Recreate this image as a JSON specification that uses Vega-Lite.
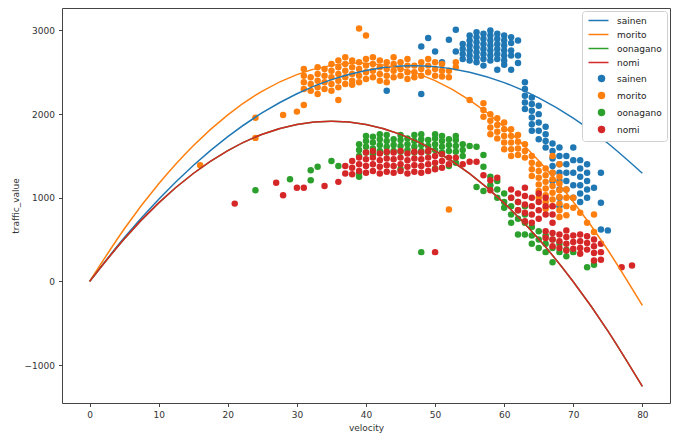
{
"$schema":"https://vega.github.io/schema/vega-lite/v6.json",
"width":608,"height":395,"autosize":"none",
"padding":{"left":62,"top":8,"right":9,"bottom":32},
"background":"white",
"config":{"view":{"stroke":"#444","strokeWidth":1},"font":"DejaVu Sans",
"axis":{"grid":false,"domain":false,"tickColor":"#444","tickSize":3.5,"labelColor":"#333","labelFontSize":9,"titleFontSize":9,"titleFontWeight":"normal","titleColor":"#333","labelFont":"DejaVu Sans","titleFont":"DejaVu Sans","labelPadding":4}},
"datasets":{
"lines":[
{"s":"sainen_l","v":0,"t":0},{"s":"sainen_l","v":5,"t":521},{"s":"sainen_l","v":10,"t":983},{"s":"sainen_l","v":15,"t":1386},{"s":"sainen_l","v":20,"t":1731},{"s":"sainen_l","v":25,"t":2017},{"s":"sainen_l","v":30,"t":2244},{"s":"sainen_l","v":35,"t":2413},{"s":"sainen_l","v":40,"t":2523},{"s":"sainen_l","v":45,"t":2575},{"s":"sainen_l","v":50,"t":2568},{"s":"sainen_l","v":55,"t":2502},{"s":"sainen_l","v":60,"t":2377},{"s":"sainen_l","v":65,"t":2194},{"s":"sainen_l","v":70,"t":1952},{"s":"sainen_l","v":75,"t":1652},{"s":"sainen_l","v":80,"t":1293},
{"s":"morito_l","v":0,"t":0},{"s":"morito_l","v":5,"t":627},{"s":"morito_l","v":10,"t":1168},{"s":"morito_l","v":15,"t":1623},{"s":"morito_l","v":20,"t":1992},{"s":"morito_l","v":25,"t":2275},{"s":"morito_l","v":30,"t":2472},{"s":"morito_l","v":35,"t":2583},{"s":"morito_l","v":40,"t":2608},{"s":"morito_l","v":45,"t":2547},{"s":"morito_l","v":50,"t":2400},{"s":"morito_l","v":55,"t":2167},{"s":"morito_l","v":60,"t":1848},{"s":"morito_l","v":65,"t":1443},{"s":"morito_l","v":70,"t":952},{"s":"morito_l","v":75,"t":375},{"s":"morito_l","v":80,"t":-288},
{"s":"oonagano_l","v":0,"t":0},{"s":"oonagano_l","v":5,"t":508},{"s":"oonagano_l","v":10,"t":939},{"s":"oonagano_l","v":15,"t":1290},{"s":"oonagano_l","v":20,"t":1564},{"s":"oonagano_l","v":25,"t":1759},{"s":"oonagano_l","v":30,"t":1876},{"s":"oonagano_l","v":35,"t":1915},{"s":"oonagano_l","v":40,"t":1876},{"s":"oonagano_l","v":45,"t":1758},{"s":"oonagano_l","v":50,"t":1562},{"s":"oonagano_l","v":55,"t":1288},{"s":"oonagano_l","v":60,"t":936},{"s":"oonagano_l","v":65,"t":506},{"s":"oonagano_l","v":70,"t":-4},{"s":"oonagano_l","v":75,"t":-591},{"s":"oonagano_l","v":80,"t":-1256},
{"s":"nomi_l","v":0,"t":0},{"s":"nomi_l","v":5,"t":508},{"s":"nomi_l","v":10,"t":939},{"s":"nomi_l","v":15,"t":1290},{"s":"nomi_l","v":20,"t":1564},{"s":"nomi_l","v":25,"t":1759},{"s":"nomi_l","v":30,"t":1876},{"s":"nomi_l","v":35,"t":1915},{"s":"nomi_l","v":40,"t":1876},{"s":"nomi_l","v":45,"t":1758},{"s":"nomi_l","v":50,"t":1562},{"s":"nomi_l","v":55,"t":1288},{"s":"nomi_l","v":60,"t":936},{"s":"nomi_l","v":65,"t":506},{"s":"nomi_l","v":70,"t":-4},{"s":"nomi_l","v":75,"t":-591},{"s":"nomi_l","v":80,"t":-1256}
],
"pts":[
{"s":"sainen_p","v":43,"t":2280},{"s":"sainen_p","v":48,"t":2240},{"s":"sainen_p","v":49,"t":2910},{"s":"sainen_p","v":48,"t":2810},{"s":"sainen_p","v":50,"t":2750},{"s":"sainen_p","v":53,"t":3010},{"s":"sainen_p","v":52,"t":2890},{"s":"sainen_p","v":53,"t":2750},{"s":"sainen_p","v":51,"t":2620},
{"s":"sainen_p","v":54,"t":2660},{"s":"sainen_p","v":54,"t":2720},{"s":"sainen_p","v":54,"t":2780},{"s":"sainen_p","v":54,"t":2840},
{"s":"sainen_p","v":55,"t":2640},{"s":"sainen_p","v":55,"t":2700},{"s":"sainen_p","v":55,"t":2760},{"s":"sainen_p","v":55,"t":2820},{"s":"sainen_p","v":55,"t":2880},{"s":"sainen_p","v":55,"t":2940},
{"s":"sainen_p","v":56,"t":2620},{"s":"sainen_p","v":56,"t":2680},{"s":"sainen_p","v":56,"t":2740},{"s":"sainen_p","v":56,"t":2800},{"s":"sainen_p","v":56,"t":2860},{"s":"sainen_p","v":56,"t":2920},{"s":"sainen_p","v":56,"t":2980},
{"s":"sainen_p","v":57,"t":2660},{"s":"sainen_p","v":57,"t":2720},{"s":"sainen_p","v":57,"t":2780},{"s":"sainen_p","v":57,"t":2840},{"s":"sainen_p","v":57,"t":2900},{"s":"sainen_p","v":57,"t":2960},{"s":"sainen_p","v":57,"t":2580},
{"s":"sainen_p","v":58,"t":2640},{"s":"sainen_p","v":58,"t":2700},{"s":"sainen_p","v":58,"t":2760},{"s":"sainen_p","v":58,"t":2820},{"s":"sainen_p","v":58,"t":2880},{"s":"sainen_p","v":58,"t":2940},{"s":"sainen_p","v":58,"t":3000},
{"s":"sainen_p","v":59,"t":2660},{"s":"sainen_p","v":59,"t":2720},{"s":"sainen_p","v":59,"t":2780},{"s":"sainen_p","v":59,"t":2840},{"s":"sainen_p","v":59,"t":2900},{"s":"sainen_p","v":59,"t":2960},{"s":"sainen_p","v":59,"t":2530},
{"s":"sainen_p","v":60,"t":2640},{"s":"sainen_p","v":60,"t":2700},{"s":"sainen_p","v":60,"t":2760},{"s":"sainen_p","v":60,"t":2820},{"s":"sainen_p","v":60,"t":2880},{"s":"sainen_p","v":60,"t":2940},{"s":"sainen_p","v":60,"t":2590},
{"s":"sainen_p","v":61,"t":2700},{"s":"sainen_p","v":61,"t":2760},{"s":"sainen_p","v":61,"t":2850},{"s":"sainen_p","v":61,"t":2920},{"s":"sainen_p","v":61,"t":2530},
{"s":"sainen_p","v":62,"t":2880},{"s":"sainen_p","v":62,"t":2610},{"s":"sainen_p","v":62,"t":2700},
{"s":"sainen_p","v":63,"t":2380},{"s":"sainen_p","v":63,"t":2300},{"s":"sainen_p","v":63,"t":2220},{"s":"sainen_p","v":63,"t":2140},{"s":"sainen_p","v":63,"t":2060},
{"s":"sainen_p","v":64,"t":2200},{"s":"sainen_p","v":64,"t":2120},{"s":"sainen_p","v":64,"t":2040},{"s":"sainen_p","v":64,"t":1960},{"s":"sainen_p","v":64,"t":1880},{"s":"sainen_p","v":64,"t":1800},
{"s":"sainen_p","v":65,"t":2100},{"s":"sainen_p","v":65,"t":2000},{"s":"sainen_p","v":65,"t":1900},{"s":"sainen_p","v":65,"t":1800},{"s":"sainen_p","v":65,"t":1700},
{"s":"sainen_p","v":66,"t":1850},{"s":"sainen_p","v":66,"t":1760},{"s":"sainen_p","v":66,"t":1680},{"s":"sainen_p","v":66,"t":1600},
{"s":"sainen_p","v":67,"t":1650},{"s":"sainen_p","v":67,"t":1560},{"s":"sainen_p","v":67,"t":1470},{"s":"sainen_p","v":67,"t":1380},{"s":"sainen_p","v":67,"t":1300},{"s":"sainen_p","v":67,"t":1200},
{"s":"sainen_p","v":68,"t":1600},{"s":"sainen_p","v":68,"t":1500},{"s":"sainen_p","v":68,"t":1400},{"s":"sainen_p","v":68,"t":1300},{"s":"sainen_p","v":68,"t":1200},{"s":"sainen_p","v":68,"t":1100},{"s":"sainen_p","v":68,"t":1000},{"s":"sainen_p","v":68,"t":900},
{"s":"sainen_p","v":69,"t":1500},{"s":"sainen_p","v":69,"t":1400},{"s":"sainen_p","v":69,"t":1300},{"s":"sainen_p","v":69,"t":1200},{"s":"sainen_p","v":69,"t":1100},
{"s":"sainen_p","v":70,"t":1600},{"s":"sainen_p","v":70,"t":1450},{"s":"sainen_p","v":70,"t":1300},{"s":"sainen_p","v":70,"t":1150},{"s":"sainen_p","v":70,"t":1000},
{"s":"sainen_p","v":71,"t":1450},{"s":"sainen_p","v":71,"t":1350},{"s":"sainen_p","v":71,"t":1250},{"s":"sainen_p","v":71,"t":1150},{"s":"sainen_p","v":71,"t":1050},{"s":"sainen_p","v":71,"t":950},
{"s":"sainen_p","v":72,"t":1400},{"s":"sainen_p","v":72,"t":1300},{"s":"sainen_p","v":72,"t":1200},{"s":"sainen_p","v":72,"t":1100},{"s":"sainen_p","v":72,"t":1000},
{"s":"sainen_p","v":73,"t":1120},{"s":"sainen_p","v":74,"t":1300},{"s":"sainen_p","v":74,"t":940},{"s":"sainen_p","v":74,"t":620},{"s":"sainen_p","v":75,"t":610},
{"s":"morito_p","v":16,"t":1390},{"s":"morito_p","v":24,"t":1716},{"s":"morito_p","v":24,"t":1956},{"s":"morito_p","v":28,"t":1990},{"s":"morito_p","v":30,"t":2030},{"s":"morito_p","v":31,"t":2110},{"s":"morito_p","v":36,"t":2170},{"s":"morito_p","v":38,"t":2350},{"s":"morito_p","v":43,"t":2380},{"s":"morito_p","v":47,"t":2440},{"s":"morito_p","v":51,"t":2450},{"s":"morito_p","v":55,"t":2170},{"s":"morito_p","v":39,"t":3024},{"s":"morito_p","v":40,"t":2940},{"s":"morito_p","v":52,"t":860},
{"s":"morito_p","v":31,"t":2300},{"s":"morito_p","v":31,"t":2380},{"s":"morito_p","v":31,"t":2460},{"s":"morito_p","v":31,"t":2540},
{"s":"morito_p","v":32,"t":2280},{"s":"morito_p","v":32,"t":2360},{"s":"morito_p","v":32,"t":2440},
{"s":"morito_p","v":33,"t":2240},{"s":"morito_p","v":33,"t":2320},{"s":"morito_p","v":33,"t":2400},{"s":"morito_p","v":33,"t":2480},{"s":"morito_p","v":33,"t":2560},
{"s":"morito_p","v":34,"t":2300},{"s":"morito_p","v":34,"t":2380},{"s":"morito_p","v":34,"t":2460},{"s":"morito_p","v":34,"t":2540},
{"s":"morito_p","v":35,"t":2280},{"s":"morito_p","v":35,"t":2360},{"s":"morito_p","v":35,"t":2440},{"s":"morito_p","v":35,"t":2520},{"s":"morito_p","v":35,"t":2600},
{"s":"morito_p","v":36,"t":2320},{"s":"morito_p","v":36,"t":2400},{"s":"morito_p","v":36,"t":2480},{"s":"morito_p","v":36,"t":2560},{"s":"morito_p","v":36,"t":2640},
{"s":"morito_p","v":37,"t":2360},{"s":"morito_p","v":37,"t":2440},{"s":"morito_p","v":37,"t":2520},{"s":"morito_p","v":37,"t":2600},{"s":"morito_p","v":37,"t":2680},
{"s":"morito_p","v":38,"t":2400},{"s":"morito_p","v":38,"t":2480},{"s":"morito_p","v":38,"t":2560},{"s":"morito_p","v":38,"t":2640},
{"s":"morito_p","v":39,"t":2380},{"s":"morito_p","v":39,"t":2460},{"s":"morito_p","v":39,"t":2540},{"s":"morito_p","v":39,"t":2620},
{"s":"morito_p","v":40,"t":2420},{"s":"morito_p","v":40,"t":2500},{"s":"morito_p","v":40,"t":2580},{"s":"morito_p","v":40,"t":2660},
{"s":"morito_p","v":41,"t":2440},{"s":"morito_p","v":41,"t":2520},{"s":"morito_p","v":41,"t":2600},{"s":"morito_p","v":41,"t":2680},
{"s":"morito_p","v":42,"t":2400},{"s":"morito_p","v":42,"t":2480},{"s":"morito_p","v":42,"t":2560},{"s":"morito_p","v":42,"t":2640},
{"s":"morito_p","v":43,"t":2460},{"s":"morito_p","v":43,"t":2540},{"s":"morito_p","v":43,"t":2620},
{"s":"morito_p","v":44,"t":2440},{"s":"morito_p","v":44,"t":2520},{"s":"morito_p","v":44,"t":2600},{"s":"morito_p","v":44,"t":2680},
{"s":"morito_p","v":45,"t":2460},{"s":"morito_p","v":45,"t":2540},{"s":"morito_p","v":45,"t":2620},
{"s":"morito_p","v":46,"t":2420},{"s":"morito_p","v":46,"t":2500},{"s":"morito_p","v":46,"t":2580},{"s":"morito_p","v":46,"t":2660},
{"s":"morito_p","v":47,"t":2500},{"s":"morito_p","v":47,"t":2580},
{"s":"morito_p","v":48,"t":2460},{"s":"morito_p","v":48,"t":2540},{"s":"morito_p","v":48,"t":2620},
{"s":"morito_p","v":49,"t":2500},{"s":"morito_p","v":49,"t":2580},{"s":"morito_p","v":49,"t":2660},
{"s":"morito_p","v":50,"t":2460},{"s":"morito_p","v":50,"t":2540},{"s":"morito_p","v":50,"t":2620},
{"s":"morito_p","v":51,"t":2520},{"s":"morito_p","v":51,"t":2600},{"s":"morito_p","v":52,"t":2440},{"s":"morito_p","v":52,"t":2520},{"s":"morito_p","v":53,"t":2560},{"s":"morito_p","v":53,"t":2620},
{"s":"morito_p","v":57,"t":2130},{"s":"morito_p","v":57,"t":2050},{"s":"morito_p","v":57,"t":1970},
{"s":"morito_p","v":58,"t":2000},{"s":"morito_p","v":58,"t":1920},{"s":"morito_p","v":58,"t":1840},{"s":"morito_p","v":58,"t":1760},
{"s":"morito_p","v":59,"t":1950},{"s":"morito_p","v":59,"t":1870},{"s":"morito_p","v":59,"t":1790},{"s":"morito_p","v":59,"t":1710},
{"s":"morito_p","v":60,"t":1900},{"s":"morito_p","v":60,"t":1820},{"s":"morito_p","v":60,"t":1740},{"s":"morito_p","v":60,"t":1660},{"s":"morito_p","v":60,"t":1580},
{"s":"morito_p","v":61,"t":1820},{"s":"morito_p","v":61,"t":1740},{"s":"morito_p","v":61,"t":1660},{"s":"morito_p","v":61,"t":1580},{"s":"morito_p","v":61,"t":1500},
{"s":"morito_p","v":62,"t":1750},{"s":"morito_p","v":62,"t":1670},{"s":"morito_p","v":62,"t":1590},{"s":"morito_p","v":62,"t":1510},
{"s":"morito_p","v":63,"t":1640},{"s":"morito_p","v":63,"t":1560},{"s":"morito_p","v":63,"t":1480},
{"s":"morito_p","v":64,"t":1500},{"s":"morito_p","v":64,"t":1420},{"s":"morito_p","v":64,"t":1340},{"s":"morito_p","v":64,"t":1260},
{"s":"morito_p","v":65,"t":1400},{"s":"morito_p","v":65,"t":1320},{"s":"morito_p","v":65,"t":1240},{"s":"morito_p","v":65,"t":1160},{"s":"morito_p","v":65,"t":1080},{"s":"morito_p","v":65,"t":1000},
{"s":"morito_p","v":66,"t":1350},{"s":"morito_p","v":66,"t":1270},{"s":"morito_p","v":66,"t":1190},{"s":"morito_p","v":66,"t":1110},{"s":"morito_p","v":66,"t":1030},{"s":"morito_p","v":66,"t":950},{"s":"morito_p","v":66,"t":870},
{"s":"morito_p","v":67,"t":1500},{"s":"morito_p","v":67,"t":1300},{"s":"morito_p","v":67,"t":1220},{"s":"morito_p","v":67,"t":1140},{"s":"morito_p","v":67,"t":1060},{"s":"morito_p","v":67,"t":980},{"s":"morito_p","v":67,"t":900},
{"s":"morito_p","v":68,"t":1400},{"s":"morito_p","v":68,"t":1250},{"s":"morito_p","v":68,"t":1170},{"s":"morito_p","v":68,"t":1090},{"s":"morito_p","v":68,"t":1010},{"s":"morito_p","v":68,"t":930},{"s":"morito_p","v":68,"t":850},{"s":"morito_p","v":68,"t":770},
{"s":"morito_p","v":69,"t":1100},{"s":"morito_p","v":69,"t":1000},{"s":"morito_p","v":69,"t":900},{"s":"morito_p","v":69,"t":790},
{"s":"morito_p","v":70,"t":1000},{"s":"morito_p","v":70,"t":880},{"s":"morito_p","v":71,"t":820},{"s":"morito_p","v":72,"t":700},{"s":"morito_p","v":73,"t":590},{"s":"morito_p","v":73,"t":800},
{"s":"oonagano_p","v":24,"t":1090},{"s":"oonagano_p","v":29,"t":1220},{"s":"oonagano_p","v":32,"t":1330},{"s":"oonagano_p","v":32,"t":1210},{"s":"oonagano_p","v":33,"t":1370},{"s":"oonagano_p","v":35,"t":1440},{"s":"oonagano_p","v":36,"t":1380},{"s":"oonagano_p","v":48,"t":350},{"s":"oonagano_p","v":56,"t":1610},{"s":"oonagano_p","v":57,"t":1510},{"s":"oonagano_p","v":57,"t":1370},{"s":"oonagano_p","v":56,"t":1130},{"s":"oonagano_p","v":57,"t":1080},
{"s":"oonagano_p","v":39,"t":1500},{"s":"oonagano_p","v":39,"t":1570},{"s":"oonagano_p","v":39,"t":1640},
{"s":"oonagano_p","v":40,"t":1540},{"s":"oonagano_p","v":40,"t":1610},{"s":"oonagano_p","v":40,"t":1680},{"s":"oonagano_p","v":40,"t":1740},
{"s":"oonagano_p","v":41,"t":1520},{"s":"oonagano_p","v":41,"t":1590},{"s":"oonagano_p","v":41,"t":1660},{"s":"oonagano_p","v":41,"t":1730},
{"s":"oonagano_p","v":42,"t":1560},{"s":"oonagano_p","v":42,"t":1630},{"s":"oonagano_p","v":42,"t":1700},{"s":"oonagano_p","v":42,"t":1760},
{"s":"oonagano_p","v":43,"t":1540},{"s":"oonagano_p","v":43,"t":1610},{"s":"oonagano_p","v":43,"t":1680},{"s":"oonagano_p","v":43,"t":1750},
{"s":"oonagano_p","v":44,"t":1560},{"s":"oonagano_p","v":44,"t":1630},{"s":"oonagano_p","v":44,"t":1700},
{"s":"oonagano_p","v":45,"t":1550},{"s":"oonagano_p","v":45,"t":1620},{"s":"oonagano_p","v":45,"t":1690},{"s":"oonagano_p","v":45,"t":1750},
{"s":"oonagano_p","v":46,"t":1570},{"s":"oonagano_p","v":46,"t":1640},{"s":"oonagano_p","v":46,"t":1710},
{"s":"oonagano_p","v":47,"t":1540},{"s":"oonagano_p","v":47,"t":1610},{"s":"oonagano_p","v":47,"t":1680},{"s":"oonagano_p","v":47,"t":1750},
{"s":"oonagano_p","v":48,"t":1560},{"s":"oonagano_p","v":48,"t":1630},{"s":"oonagano_p","v":48,"t":1700},{"s":"oonagano_p","v":48,"t":1760},
{"s":"oonagano_p","v":49,"t":1550},{"s":"oonagano_p","v":49,"t":1620},{"s":"oonagano_p","v":49,"t":1690},
{"s":"oonagano_p","v":50,"t":1570},{"s":"oonagano_p","v":50,"t":1640},{"s":"oonagano_p","v":50,"t":1710},{"s":"oonagano_p","v":50,"t":1760},
{"s":"oonagano_p","v":51,"t":1540},{"s":"oonagano_p","v":51,"t":1610},{"s":"oonagano_p","v":51,"t":1680},{"s":"oonagano_p","v":51,"t":1740},
{"s":"oonagano_p","v":52,"t":1560},{"s":"oonagano_p","v":52,"t":1630},{"s":"oonagano_p","v":52,"t":1700},
{"s":"oonagano_p","v":53,"t":1550},{"s":"oonagano_p","v":53,"t":1620},{"s":"oonagano_p","v":53,"t":1690},{"s":"oonagano_p","v":53,"t":1740},
{"s":"oonagano_p","v":54,"t":1500},{"s":"oonagano_p","v":54,"t":1570},{"s":"oonagano_p","v":54,"t":1640},
{"s":"oonagano_p","v":39,"t":1300},{"s":"oonagano_p","v":39,"t":1250},{"s":"oonagano_p","v":45,"t":1340},{"s":"oonagano_p","v":50,"t":1350},{"s":"oonagano_p","v":52,"t":1380},{"s":"oonagano_p","v":53,"t":1420},{"s":"oonagano_p","v":55,"t":1620},
{"s":"oonagano_p","v":58,"t":1250},{"s":"oonagano_p","v":58,"t":1150},{"s":"oonagano_p","v":59,"t":1200},{"s":"oonagano_p","v":59,"t":1100},{"s":"oonagano_p","v":59,"t":1000},
{"s":"oonagano_p","v":60,"t":1050},{"s":"oonagano_p","v":60,"t":950},{"s":"oonagano_p","v":60,"t":880},
{"s":"oonagano_p","v":61,"t":1000},{"s":"oonagano_p","v":61,"t":900},{"s":"oonagano_p","v":61,"t":800},{"s":"oonagano_p","v":61,"t":700},
{"s":"oonagano_p","v":62,"t":950},{"s":"oonagano_p","v":62,"t":850},{"s":"oonagano_p","v":62,"t":750},{"s":"oonagano_p","v":62,"t":560},
{"s":"oonagano_p","v":63,"t":900},{"s":"oonagano_p","v":63,"t":800},{"s":"oonagano_p","v":63,"t":700},{"s":"oonagano_p","v":63,"t":560},
{"s":"oonagano_p","v":64,"t":650},{"s":"oonagano_p","v":64,"t":550},{"s":"oonagano_p","v":64,"t":450},
{"s":"oonagano_p","v":65,"t":600},{"s":"oonagano_p","v":65,"t":500},{"s":"oonagano_p","v":65,"t":400},
{"s":"oonagano_p","v":66,"t":550},{"s":"oonagano_p","v":66,"t":450},{"s":"oonagano_p","v":66,"t":350},
{"s":"oonagano_p","v":67,"t":500},{"s":"oonagano_p","v":67,"t":400},{"s":"oonagano_p","v":67,"t":230},
{"s":"oonagano_p","v":68,"t":450},{"s":"oonagano_p","v":68,"t":350},{"s":"oonagano_p","v":69,"t":380},{"s":"oonagano_p","v":69,"t":300},{"s":"oonagano_p","v":70,"t":350},{"s":"oonagano_p","v":72,"t":170},{"s":"oonagano_p","v":73,"t":200},
{"s":"nomi_p","v":21,"t":930},{"s":"nomi_p","v":27,"t":1180},{"s":"nomi_p","v":28,"t":1030},{"s":"nomi_p","v":30,"t":1120},{"s":"nomi_p","v":31,"t":1120},{"s":"nomi_p","v":34,"t":1140},{"s":"nomi_p","v":36,"t":1190},{"s":"nomi_p","v":37,"t":1290},{"s":"nomi_p","v":50,"t":350},{"s":"nomi_p","v":77,"t":170},{"s":"nomi_p","v":78.5,"t":190},
{"s":"nomi_p","v":37,"t":1380},{"s":"nomi_p","v":38,"t":1280},{"s":"nomi_p","v":38,"t":1360},{"s":"nomi_p","v":38,"t":1440},
{"s":"nomi_p","v":39,"t":1320},{"s":"nomi_p","v":39,"t":1400},{"s":"nomi_p","v":39,"t":1480},
{"s":"nomi_p","v":40,"t":1300},{"s":"nomi_p","v":40,"t":1380},{"s":"nomi_p","v":40,"t":1460},{"s":"nomi_p","v":40,"t":1540},
{"s":"nomi_p","v":41,"t":1320},{"s":"nomi_p","v":41,"t":1400},{"s":"nomi_p","v":41,"t":1480},{"s":"nomi_p","v":41,"t":1560},
{"s":"nomi_p","v":42,"t":1290},{"s":"nomi_p","v":42,"t":1370},{"s":"nomi_p","v":42,"t":1450},{"s":"nomi_p","v":42,"t":1530},
{"s":"nomi_p","v":43,"t":1310},{"s":"nomi_p","v":43,"t":1390},{"s":"nomi_p","v":43,"t":1470},{"s":"nomi_p","v":43,"t":1550},
{"s":"nomi_p","v":44,"t":1300},{"s":"nomi_p","v":44,"t":1380},{"s":"nomi_p","v":44,"t":1460},{"s":"nomi_p","v":44,"t":1540},
{"s":"nomi_p","v":45,"t":1320},{"s":"nomi_p","v":45,"t":1400},{"s":"nomi_p","v":45,"t":1480},{"s":"nomi_p","v":45,"t":1560},
{"s":"nomi_p","v":46,"t":1290},{"s":"nomi_p","v":46,"t":1370},{"s":"nomi_p","v":46,"t":1450},{"s":"nomi_p","v":46,"t":1530},
{"s":"nomi_p","v":47,"t":1310},{"s":"nomi_p","v":47,"t":1390},{"s":"nomi_p","v":47,"t":1470},{"s":"nomi_p","v":47,"t":1550},
{"s":"nomi_p","v":48,"t":1300},{"s":"nomi_p","v":48,"t":1380},{"s":"nomi_p","v":48,"t":1460},{"s":"nomi_p","v":48,"t":1540},
{"s":"nomi_p","v":49,"t":1320},{"s":"nomi_p","v":49,"t":1400},{"s":"nomi_p","v":49,"t":1480},{"s":"nomi_p","v":49,"t":1560},
{"s":"nomi_p","v":50,"t":1340},{"s":"nomi_p","v":50,"t":1420},{"s":"nomi_p","v":50,"t":1500},
{"s":"nomi_p","v":51,"t":1360},{"s":"nomi_p","v":51,"t":1440},{"s":"nomi_p","v":51,"t":1520},
{"s":"nomi_p","v":52,"t":1400},{"s":"nomi_p","v":52,"t":1480},
{"s":"nomi_p","v":53,"t":1480},{"s":"nomi_p","v":54,"t":1400},{"s":"nomi_p","v":55,"t":1430},{"s":"nomi_p","v":56,"t":1430},{"s":"nomi_p","v":57,"t":1270},{"s":"nomi_p","v":58,"t":1210},{"s":"nomi_p","v":59,"t":1240},{"s":"nomi_p","v":58,"t":1090},
{"s":"nomi_p","v":61,"t":1100},{"s":"nomi_p","v":61,"t":1000},
{"s":"nomi_p","v":62,"t":1050},{"s":"nomi_p","v":62,"t":950},{"s":"nomi_p","v":62,"t":850},
{"s":"nomi_p","v":63,"t":1120},{"s":"nomi_p","v":63,"t":1020},{"s":"nomi_p","v":63,"t":920},{"s":"nomi_p","v":63,"t":820},{"s":"nomi_p","v":63,"t":720},
{"s":"nomi_p","v":64,"t":1000},{"s":"nomi_p","v":64,"t":900},{"s":"nomi_p","v":64,"t":800},{"s":"nomi_p","v":64,"t":700},
{"s":"nomi_p","v":65,"t":1050},{"s":"nomi_p","v":65,"t":950},{"s":"nomi_p","v":65,"t":850},{"s":"nomi_p","v":65,"t":750},
{"s":"nomi_p","v":66,"t":1000},{"s":"nomi_p","v":66,"t":900},{"s":"nomi_p","v":66,"t":800},
{"s":"nomi_p","v":67,"t":900},{"s":"nomi_p","v":67,"t":800},{"s":"nomi_p","v":67,"t":700},
{"s":"nomi_p","v":66,"t":600},{"s":"nomi_p","v":66,"t":520},
{"s":"nomi_p","v":67,"t":580},{"s":"nomi_p","v":67,"t":500},{"s":"nomi_p","v":67,"t":420},
{"s":"nomi_p","v":68,"t":560},{"s":"nomi_p","v":68,"t":480},{"s":"nomi_p","v":68,"t":400},
{"s":"nomi_p","v":69,"t":610},{"s":"nomi_p","v":69,"t":530},{"s":"nomi_p","v":69,"t":450},{"s":"nomi_p","v":69,"t":370},
{"s":"nomi_p","v":70,"t":550},{"s":"nomi_p","v":70,"t":470},{"s":"nomi_p","v":70,"t":390},
{"s":"nomi_p","v":71,"t":560},{"s":"nomi_p","v":71,"t":480},{"s":"nomi_p","v":71,"t":400},{"s":"nomi_p","v":71,"t":330},
{"s":"nomi_p","v":72,"t":540},{"s":"nomi_p","v":72,"t":460},{"s":"nomi_p","v":72,"t":380},
{"s":"nomi_p","v":73,"t":500},{"s":"nomi_p","v":73,"t":420},{"s":"nomi_p","v":73,"t":340},{"s":"nomi_p","v":73,"t":250},
{"s":"nomi_p","v":74,"t":450},{"s":"nomi_p","v":74,"t":350},{"s":"nomi_p","v":74,"t":260}
]},
"layer":[
{"data":{"name":"pts"},
 "mark":{"type":"point","filled":true,"size":42,"opacity":1},
 "encoding":{
  "x":{"field":"v","type":"quantitative","scale":{"domain":[-4,84],"nice":false,"zero":false},"axis":{"values":[0,10,20,30,40,50,60,70,80],"title":"velocity"}},
  "y":{"field":"t","type":"quantitative","scale":{"domain":[-1454,3269],"nice":false,"zero":false},"axis":{"values":[-1000,0,1000,2000,3000],"format":"d","title":"traffic_value"}},
  "color":{"field":"s","type":"nominal",
   "scale":{"domain":["sainen_l","morito_l","oonagano_l","nomi_l","sainen_p","morito_p","oonagano_p","nomi_p"],"range":["#1f77b4","#ff7f0e","#2ca02c","#d62728","#1f77b4","#ff7f0e","#2ca02c","#d62728"]},
   "legend":{"title":null,"orient":"top-right","offset":3,
    "labelExpr":"replace(datum.label, /_[lp]$/, '')",
    "symbolType":{"expr":"test(/_l$/, datum.value) ? 'M-1,0H5.667' : 'M4.333,0A1,1,0,1,1,2.333,0A1,1,0,1,1,4.333,0Z'"},
    "symbolStrokeColor":{"expr":"test(/_l$/, datum.value) ? scale('color', datum.value) : 'transparent'"},
    "symbolStrokeWidth":1.5,"symbolSize":36,"symbolOpacity":1,
    "fillColor":"white","strokeColor":"#d0d0d0","cornerRadius":3,"padding":5,
    "labelFontSize":9,"labelFont":"DejaVu Sans","labelColor":"#222","rowPadding":4,"labelOffset":21}}
 }},
{"data":{"name":"lines"},
 "mark":{"type":"line","interpolate":"natural","strokeWidth":1.5},
 "encoding":{
  "x":{"field":"v","type":"quantitative"},
  "y":{"field":"t","type":"quantitative"},
  "color":{"field":"s","type":"nominal"}
 }}
]
}
